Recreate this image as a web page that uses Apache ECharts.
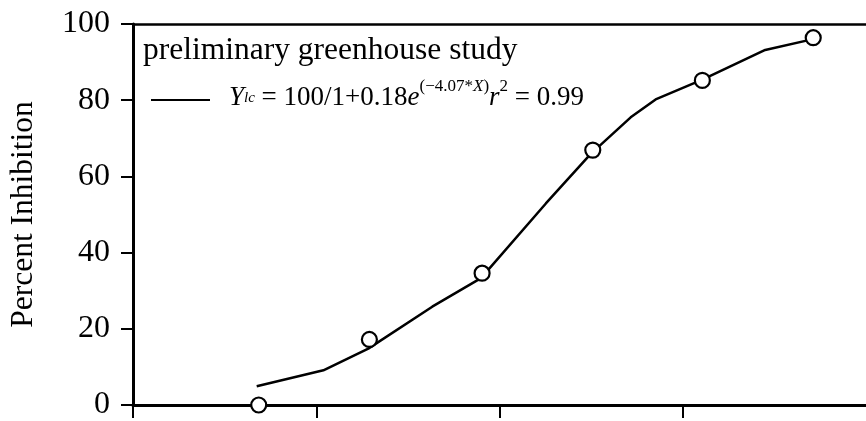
<!DOCTYPE html>
<html>
<head>
<meta charset="utf-8">
<script src="https://cdn.jsdelivr.net/npm/echarts@6/dist/echarts.min.js"></script>
<style>
  html, body { margin: 0; padding: 0; background: #fff; }
  #chart { width: 866px; height: 421px; }
</style>
</head>
<body>
<div id="chart"></div>
<script>
// Observed inhibition (%) at each treatment level
var doseX = [0.686, 1.29, 1.905, 2.509, 3.107, 3.712];
var inhibition = [0, 17.2, 34.6, 66.9, 85.2, 96.4];

// Fitted logistic curve, sampled vertices
var fitX = [0.675, 1.039, 1.284, 1.633, 1.899, 2.253, 2.498, 2.716, 2.852, 3.107, 3.45, 3.717];
var fitY = [4.9, 9.1, 14.8, 25.8, 33.3, 52.9, 65.9, 75.5, 80.2, 85.4, 93.2, 96.1];

// Axis ticks (the x range ends at 4, which sits on the page edge)
var yTicks = [0, 20, 40, 60, 80, 100];
var xTicks = [0, 1, 2, 3];
var xMin = 0, xMax = 4;

var SERIF = "'Liberation Serif', 'Times New Roman', serif";

function pairs(xs, ys) {
  return xs.map(function (x, i) { return [x, ys[i]]; });
}

var chart = echarts.init(document.getElementById('chart'), null, { renderer: 'canvas' });

var yMin = yTicks[0], yMax = yTicks[yTicks.length - 1];

// rich-text styles for the fitted equation
var eqBase = { fontFamily: SERIF, fill: '#000' };
function eq(extra) { return Object.assign({}, eqBase, extra); }

chart.setOption({
  animation: false,
  backgroundColor: '#fff',
  title: {
    text: 'preliminary greenhouse study',
    left: 143,
    top: 35,
    padding: 0,
    textStyle: { fontFamily: SERIF, fontSize: 31.5, fontWeight: 'normal', color: '#000' }
  },
  grid: { left: 131, right: 0, top: 24, bottom: 13, containLabel: false },
  xAxis: [{
    type: 'value',
    min: xMin, max: xMax, interval: 1,
    axisLine: { show: true, onZero: false, lineStyle: { color: '#000', width: 3 } },
    axisTick: { show: true, inside: false, length: 13, customValues: xTicks, lineStyle: { color: '#000', width: 2 } },
    axisLabel: { show: false },
    splitLine: { show: false }
  }, {
    type: 'value',
    position: 'top',
    min: xMin, max: xMax, interval: 1,
    axisLine: { show: true, onZero: false, lineStyle: { color: '#000', width: 2.5 } },
    axisTick: { show: false },
    axisLabel: { show: false },
    splitLine: { show: false }
  }],
  yAxis: {
    type: 'value',
    min: yMin, max: yMax, interval: 20,
    name: 'Percent Inhibition',
    nameLocation: 'middle',
    nameGap: 93,
    nameTextStyle: { fontFamily: SERIF, fontSize: 31.5, color: '#000' },
    axisLine: { show: true, onZero: false, lineStyle: { color: '#000', width: 3 } },
    axisTick: { show: true, inside: false, length: 12, lineStyle: { color: '#000', width: 2 } },
    axisLabel: { show: true, margin: 23, fontFamily: SERIF, fontSize: 32, color: '#000' },
    splitLine: { show: false }
  },
  series: [{
    name: 'fit',
    type: 'line',
    data: pairs(fitX, fitY),
    showSymbol: false,
    smooth: false,
    lineStyle: { color: '#000', width: 2.5 },
    z: 2
  }, {
    name: 'observed',
    type: 'scatter',
    data: pairs(doseX, inhibition),
    symbol: 'circle',
    symbolSize: 15,
    itemStyle: { color: '#fff', borderColor: '#000', borderWidth: 2.2, opacity: 1 },
    z: 3
  }],
  graphic: [{
    type: 'line',
    shape: { x1: 151, y1: 100, x2: 210, y2: 100 },
    style: { stroke: '#000', lineWidth: 2 }
  }, {
    type: 'text',
    left: 229,
    top: 78,
    style: {
      text: '{i|Y}{lc|lc}{n| = 100/1+0.18}{i|e}{sup|(\u22124.07*}{supi|X}{sup|)}{i|r}{sup2|2}{n| = 0.99}',
      fontFamily: SERIF,
      fill: '#000',
      rich: {
        n: eq({ fontSize: 27, lineHeight: 40 }),
        i: eq({ fontSize: 27, fontStyle: 'italic', lineHeight: 40 }),
        lc: eq({ fontSize: 15, fontStyle: 'italic', lineHeight: 40, verticalAlign: 'middle' }),
        sup: eq({ fontSize: 17, lineHeight: 24, verticalAlign: 'top' }),
        supi: eq({ fontSize: 17, fontStyle: 'italic', lineHeight: 24, verticalAlign: 'top' }),
        sup2: eq({ fontSize: 17, lineHeight: 26, verticalAlign: 'top' })
      }
    }
  }]
});
</script>
</body>
</html>
